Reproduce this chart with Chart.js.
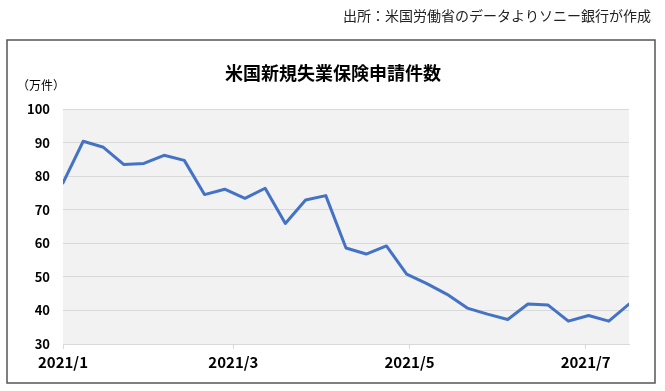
<!DOCTYPE html>
<html>
<head>
<meta charset="utf-8">
<script src="https://cdn.jsdelivr.net/npm/chart.js@4/dist/chart.umd.min.js"></script>
<style>
  html, body { margin: 0; padding: 0; background: #fff; }
  #wrap { width: 665px; height: 391px; position: relative; }
</style>
</head>
<body>
<div id="wrap"><canvas id="c" width="665" height="391"></canvas></div>
<script>
// Week-ending dates, as days since 2021/1/2
const weekDays = [0, 7, 14, 21, 28, 35, 42, 49, 56, 63, 70, 77, 84, 91, 98, 105, 112, 119, 126, 133, 140, 147, 154, 161, 168, 175, 182, 189, 196];
// New unemployment insurance claims (10,000s)
const claims = [78.0, 90.4, 88.6, 83.5, 83.8, 86.2, 84.7, 74.5, 76.1, 73.4, 76.4, 65.9, 72.9, 74.2, 58.6, 56.8, 59.2, 50.8, 48.0, 44.8, 40.7, 38.9, 37.3, 41.9, 41.6, 36.8, 38.5, 36.8, 41.9];
// X tick positions (days since 2021/1/2) and labels
const tickDays = [0, 59, 120, 181];
const tickLabels = ['2021/1', '2021/3', '2021/5', '2021/7'];
// Y ticks
const yTicks = [30, 40, 50, 60, 70, 80, 90, 100];

const titleText = '米国新規失業保険申請件数';
const unitText = '（万件）';
const sourceText = '出所：米国労働省のデータよりソニー銀行が作成';

const FONT = '"Noto Sans CJK JP", "Noto Sans", sans-serif';

const decor = {
  id: 'decor',
  beforeDraw(chart) {
    const ctx = chart.ctx;
    const a = chart.chartArea;
    ctx.save();
    ctx.fillStyle = '#ffffff';
    ctx.fillRect(0, 0, chart.width, chart.height);
    // plot background
    ctx.fillStyle = '#f2f2f2';
    ctx.fillRect(a.left, a.top, a.right - a.left, a.bottom - a.top);
    // frame
    ctx.strokeStyle = '#555555';
    ctx.lineWidth = 1.5;
    ctx.strokeRect(7, 40, 648, 343);
    // source
    ctx.fillStyle = '#222222';
    ctx.font = '14px ' + FONT;
    ctx.textAlign = 'right';
    ctx.textBaseline = 'middle';
    ctx.fillText(sourceText, 651, 16);
    // title
    ctx.fillStyle = '#000000';
    ctx.font = 'bold 18px ' + FONT;
    ctx.textAlign = 'center';
    ctx.fillText(titleText, 333, 73);
    // unit
    ctx.font = '12px ' + FONT;
    ctx.textAlign = 'left';
    ctx.fillText(unitText, 17, 85);
    ctx.restore();
  }
};

new Chart(document.getElementById('c'), {
  type: 'line',
  data: {
    datasets: [{
      data: weekDays.map((d, i) => ({ x: d, y: claims[i] })),
      borderColor: '#4472c4',
      borderWidth: 3,
      pointRadius: 0,
      tension: 0,
      fill: false,
      borderCapStyle: 'round',
      borderJoinStyle: 'round'
    }]
  },
  options: {
    responsive: false,
    animation: false,
    layout: { padding: { top: 109, right: 36, left: 0, bottom: 0 } },
    plugins: { legend: { display: false }, tooltip: { enabled: false }, title: { display: false } },
    scales: {
      x: {
        type: 'linear',
        min: weekDays[0],
        max: weekDays[weekDays.length - 1],
        afterBuildTicks: (s) => { s.ticks = tickDays.map(v => ({ value: v })); },
        afterFit: (s) => { s.height = 47; },
        ticks: {
          autoSkip: false,
          maxRotation: 0,
          padding: 4,
          color: '#000',
          font: { family: FONT, size: 15, weight: 'bold' },
          callback: (v) => tickLabels[tickDays.indexOf(v)]
        },
        grid: { drawOnChartArea: false, drawTicks: true, tickLength: 5, color: '#d9d9d9' },
        border: { display: true, color: '#d9d9d9' }
      },
      y: {
        min: 30,
        max: 100,
        afterBuildTicks: (s) => { s.ticks = yTicks.map(v => ({ value: v })); },
        afterFit: (s) => { s.width = 63; },
        ticks: {
          padding: 13,
          color: '#000',
          font: { family: FONT, size: 13, weight: 'bold' }
        },
        grid: { color: '#d9d9d9', drawTicks: false },
        border: { display: false }
      }
    }
  },
  plugins: [decor]
});
</script>
</body>
</html>
